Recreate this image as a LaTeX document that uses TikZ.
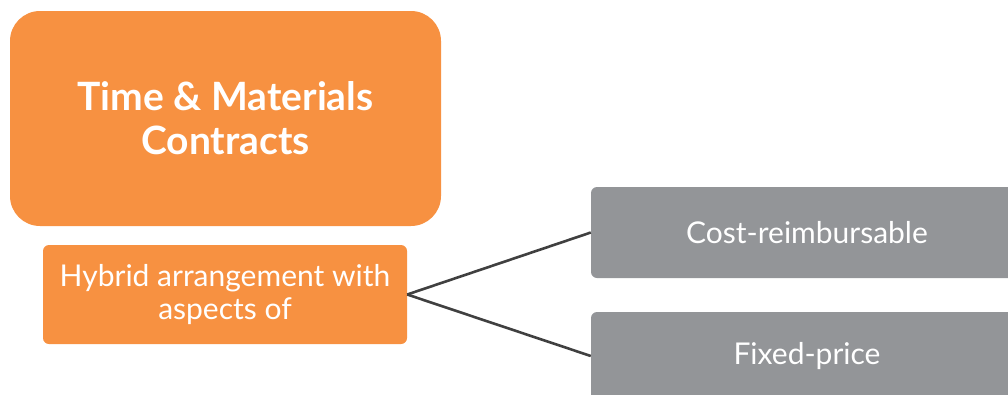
\documentclass[tikz,border=0pt]{standalone}
\usepackage{fontspec}
\setmainfont{Lato}
\definecolor{tmorange}{HTML}{F79141}
\definecolor{tmgrey}{HTML}{939598}
\definecolor{tmline}{HTML}{404040}
\tikzset{
  bigbox/.style={fill=tmorange, rounded corners=30pt, inner sep=0pt, align=center, text=white,
    minimum width=431pt, minimum height=215pt, font=\fontsize{39}{44}\selectfont\bfseries},
  smallbox/.style={fill=tmorange, rounded corners=6pt, inner sep=0pt, align=center, text=white,
    minimum width=364pt, minimum height=99pt, font=\fontsize{30}{33}\selectfont},
  greybox/.style={fill=tmgrey, rounded corners=6pt, inner sep=0pt, align=center, text=white,
    minimum width=432pt, font=\fontsize{30}{33}\selectfont},
  link/.style={draw=tmline, line width=2.6pt}
}
\begin{document}
\begin{tikzpicture}[x=1pt,y=1pt]
\useasboundingbox (0,0) rectangle (1008,-394);
\clip (0,0) rectangle (1008,-394);
\node[bigbox] (tm) at (225.5,-118.5) {Time \& Materials\\Contracts};
\node[smallbox] (hy) at (225,-294.5) {Hybrid arrangement with\\aspects of\ };
\node[greybox, minimum height=91pt] (cr) at (807,-232.5) {Cost-reimbursable};
\node[greybox, minimum height=88pt] (fp) at (807,-356) {Fixed-price};
\draw[link] (hy.east) -- (cr.west);
\draw[link] (hy.east) -- (fp.west);
\end{tikzpicture}
\end{document}
